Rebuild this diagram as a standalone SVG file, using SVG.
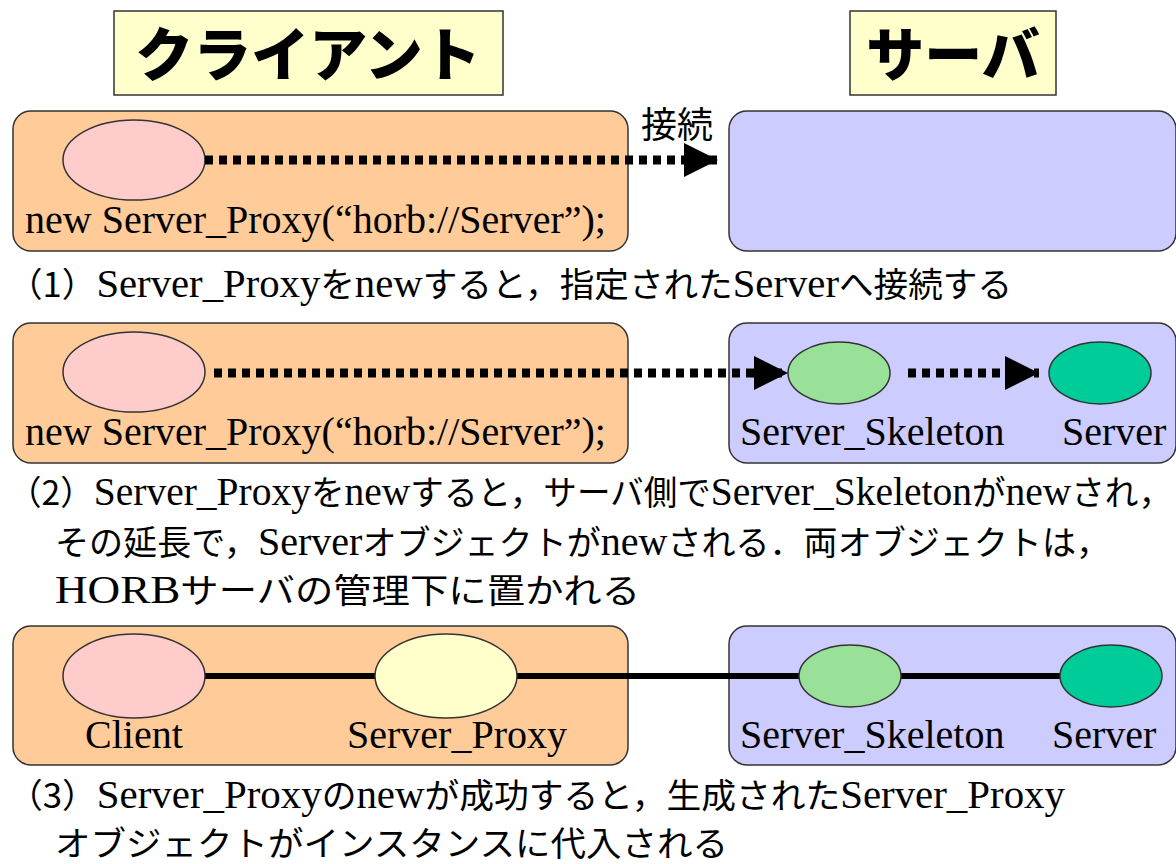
<svg xmlns="http://www.w3.org/2000/svg" width="1176" height="864" viewBox="0 0 1176 864">
  <style>
    .title { fill: #ffffcc; stroke: #333; stroke-width: 1.5; }
    .title-text { font-family: "Noto Sans CJK JP", sans-serif; font-weight: 900; font-size: 58px; fill: #000; text-anchor: middle; }
    .client { fill: #ffcc99; stroke: #333; stroke-width: 1.5; }
    .server { fill: #ccccff; stroke: #333; stroke-width: 1.5; }
    .obj { stroke: #333; stroke-width: 1.5; }
    .pink { fill: #ffcccc; }
    .yellow { fill: #ffffcc; }
    .green { fill: #99e099; }
    .teal { fill: #00cc99; }
    text { fill: #000; }
    .label, .caption { font-family: "Liberation Serif", "Times New Roman", Times, "DejaVu Serif", serif; font-size: 40px; }
    .j { font-family: "Noto Sans CJK JP", sans-serif; font-size: 34px; }
    .jp { font-family: "Noto Sans CJK JP", sans-serif; font-size: 36px; }
    .dotted { stroke: #000; stroke-width: 9; stroke-dasharray: 8 6; fill: none; }
    .solid { stroke: #000; stroke-width: 6; fill: none; }
  </style>
  <defs>
    <marker id="head" markerUnits="userSpaceOnUse" markerWidth="34" markerHeight="34" viewBox="0 0 34 34" refX="34" refY="17" orient="auto">
      <path d="M0,0 L34,17 L0,34 Z" fill="#000"/>
    </marker>
  </defs>

  <!-- headings -->
  <g id="heading-client">
    <rect class="title" x="114" y="11" width="389" height="84"/>
    <text class="title-text" x="308" y="76">クライアント</text>
  </g>
  <g id="heading-server">
    <rect class="title" x="850" y="11" width="206" height="84"/>
    <text class="title-text" x="953" y="76">サーバ</text>
  </g>

  <!-- step 1 -->
  <g id="step1-client">
    <rect class="client" x="13" y="111" width="615" height="140" rx="18"/>
    <ellipse class="obj pink" cx="134" cy="160" rx="71" ry="40"/>
    <text class="label" x="25" y="233">new Server_Proxy(“horb://Server”);</text>
  </g>
  <g id="step1-server">
    <rect class="server" x="729" y="111" width="447" height="140" rx="18"/>
  </g>
  <g id="step1-caption">
    <text class="jp" x="641" y="138">接続</text>
    <text class="caption" x="8" y="297" textLength="1004" lengthAdjust="spacingAndGlyphs"><tspan class="j">（1）</tspan>Server_Proxy<tspan class="j">を</tspan>new<tspan class="j">すると，指定された</tspan>Server<tspan class="j">へ接続する</tspan></text>
  </g>

  <!-- step 2 -->
  <g id="step2-client">
    <rect class="client" x="13" y="323" width="615" height="140" rx="18"/>
    <ellipse class="obj pink" cx="134" cy="372" rx="71" ry="40"/>
    <text class="label" x="25" y="445">new Server_Proxy(“horb://Server”);</text>
  </g>
  <g id="step2-server">
    <rect class="server" x="729" y="323" width="447" height="140" rx="18"/>
    <ellipse class="obj green" cx="839" cy="373" rx="51" ry="31"/>
    <ellipse class="obj teal" cx="1100" cy="373" rx="51" ry="31"/>
    <text class="label" x="740" y="445">Server_Skeleton</text>
    <text class="label" x="1062" y="445">Server</text>
  </g>
  <g id="step2-caption">
    <text class="caption" x="8" y="505" textLength="1164" lengthAdjust="spacingAndGlyphs"><tspan class="j">（2）</tspan>Server_Proxy<tspan class="j">を</tspan>new<tspan class="j">すると，サーバ側で</tspan>Server_Skeleton<tspan class="j">が</tspan>new<tspan class="j">され，</tspan></text>
    <text class="caption" x="55" y="555" textLength="1055" lengthAdjust="spacingAndGlyphs"><tspan class="j">その延長で，</tspan>Server<tspan class="j">オブジェクトが</tspan>new<tspan class="j">される．両オブジェクトは，</tspan></text>
    <text class="caption" x="55" y="603" textLength="585" lengthAdjust="spacingAndGlyphs">HORB<tspan class="j">サーバの管理下に置かれる</tspan></text>
  </g>

  <!-- step 3 -->
  <g id="step3-client">
    <rect class="client" x="13" y="626" width="615" height="139" rx="18"/>
  </g>
  <g id="step3-server">
    <rect class="server" x="729" y="626" width="447" height="139" rx="18"/>
  </g>

  <!-- connectors -->
  <g id="connectors">
    <line class="dotted" x1="205" y1="160" x2="718" y2="160" marker-end="url(#head)"/>
    <line class="dotted" x1="214" y1="373" x2="788" y2="373" marker-end="url(#head)"/>
    <line class="dotted" x1="908" y1="373" x2="1039" y2="373" marker-end="url(#head)"/>
    <line class="solid" x1="205" y1="676" x2="1060" y2="676"/>
  </g>

  <g id="step3-objects">
    <ellipse class="obj pink" cx="134" cy="676" rx="71" ry="42"/>
    <ellipse class="obj yellow" cx="446" cy="676" rx="71" ry="42"/>
    <ellipse class="obj green" cx="850" cy="676" rx="51" ry="31"/>
    <ellipse class="obj teal" cx="1111" cy="676" rx="51" ry="31"/>
    <text class="label" x="85" y="748">Client</text>
    <text class="label" x="347" y="748">Server_Proxy</text>
    <text class="label" x="740" y="748">Server_Skeleton</text>
    <text class="label" x="1052" y="748">Server</text>
  </g>
  <g id="step3-caption">
    <text class="caption" x="8" y="808" textLength="1057" lengthAdjust="spacingAndGlyphs"><tspan class="j">（3）</tspan>Server_Proxy<tspan class="j">の</tspan>new<tspan class="j">が成功すると，生成された</tspan>Server_Proxy</text>
    <text class="caption" x="55" y="856" textLength="673" lengthAdjust="spacingAndGlyphs"><tspan class="j">オブジェクトがインスタンスに代入される</tspan></text>
  </g>
</svg>
